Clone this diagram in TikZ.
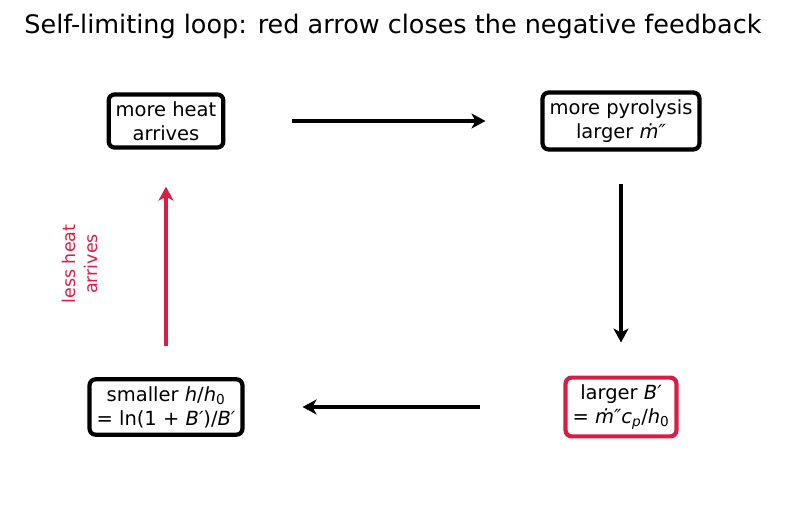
\documentclass[tikz,border=0pt]{standalone}
\usepackage{fontspec}
\setmainfont{DejaVu Sans}
\usetikzlibrary{arrows.meta}
\definecolor{loopred}{RGB}{216,30,70}
\begin{document}
\begin{tikzpicture}[x=1pt,y=1pt]

\tikzset{box/.style={draw=black,line width=4.2pt,rounded corners=6pt,align=center,
        font=\fontsize{19.5}{24}\selectfont,inner xsep=7pt,inner ysep=7pt,fill=white},
    flow/.style={line width=4.2pt,-{Stealth[length=14pt,width=15pt,inset=4pt]}}}

\useasboundingbox (0,0) rectangle (787,512);

\path (393,486) node[font=\fontsize{25.5}{30}\selectfont] (title) {Self-limiting loop: red arrow closes the negative feedback};

\path (166,391) node[box] (heat) {more heat\\arrives};
\path (621,391) node[box] (pyro) {more pyrolysis\\larger \textit{ṁ″}};
\path (621,105) node[box,draw=loopred] (blow) {larger \textit{B′}\\= \textit{ṁ″c}\textsubscript{\textit{p}}/\textit{h}\textsubscript{0}};
\path (166,105) node[box] (hratio) {smaller \textit{h}/\textit{h}\textsubscript{0}\\= ln(1 + \textit{B′})/\textit{B′}};

\draw[flow,shorten <=67pt,shorten >=55pt] (heat.east) -- (pyro.west);
\draw[flow,shorten <=32pt,shorten >=33pt] (pyro.south) -- (blow.north);
\draw[flow,shorten <=83pt,shorten >=58pt] (blow.west) -- (hratio.east);
\draw[flow,loopred,shorten <=31pt,shorten >=37pt] (hratio.north) -- (heat.south);

\path (80,248) node[rotate=90,align=center,text=loopred,font=\fontsize{17.5}{22}\selectfont] (less) {less heat\\arrives};

\end{tikzpicture}
\end{document}
